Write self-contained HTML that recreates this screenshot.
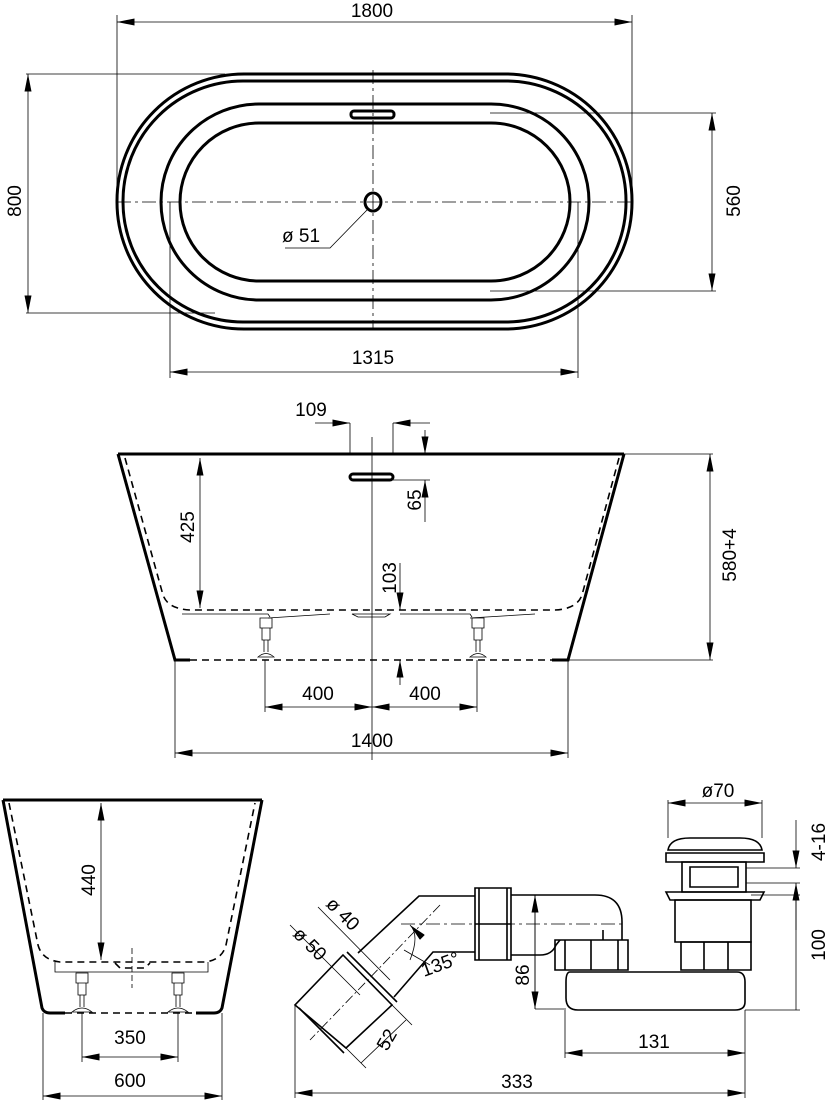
<!DOCTYPE html>
<html><head><meta charset="utf-8"><style>
html,body{margin:0;padding:0;background:#fff}
svg{display:block}
text{font-family:"Liberation Sans",sans-serif;font-size:19px;fill:#000;stroke:none}
</style></head><body>
<svg width="825" height="1100" viewBox="0 0 825 1100" xmlns="http://www.w3.org/2000/svg">
<defs>
<marker id="a" viewBox="0 0 20 8" refX="20" refY="4" markerWidth="18" markerHeight="7" markerUnits="userSpaceOnUse" orient="auto-start-reverse"><path d="M0,0 L20,4 L0,8 Z" fill="#000"/></marker>
</defs>
<g fill="none" stroke="#000">
<!-- ========== TOP VIEW ========== -->
<g stroke-width="3">
<rect x="117" y="74" width="515" height="255" rx="127" ry="127"/>
<rect x="123" y="81" width="503" height="241" rx="120" ry="120"/>
<rect x="161" y="104" width="428" height="196" rx="98" ry="98"/>
<rect x="180" y="123" width="390" height="158" rx="79" ry="79"/>
<rect x="351" y="111" width="43" height="7" rx="3"/>
<ellipse cx="373" cy="202" rx="8" ry="9"/>
</g>
<g stroke-width="0.8">
<path d="M117,202 H632" stroke-dasharray="14,4,3,4"/>
<path d="M373,70 V330" stroke-dasharray="14,4,3,4"/>
<path d="M117,15 V202 M632,15 V202"/>
<path d="M117,22 H632" marker-start="url(#a)" marker-end="url(#a)"/>
<path d="M26,74 H225 M26,313 H215"/>
<path d="M28,74 V313" marker-start="url(#a)" marker-end="url(#a)"/>
<path d="M490,113 H716 M490,291 H716"/>
<path d="M712,113 V291" marker-start="url(#a)" marker-end="url(#a)"/>
<path d="M170,202 V378 M578,202 V378"/>
<path d="M170,372 H578" marker-start="url(#a)" marker-end="url(#a)"/>
<path d="M367,210 L330,248 H285"/>
</g>
<text x="372" y="17" text-anchor="middle">1800</text>
<text transform="translate(21,201) rotate(-90)" text-anchor="middle">800</text>
<text transform="translate(740,201) rotate(-90)" text-anchor="middle">560</text>
<text x="373" y="364" text-anchor="middle">1315</text>
<text x="282" y="242">ø 51</text>

<!-- ========== SIDE VIEW ========== -->
<g stroke-width="3">
<path d="M118,454 H624"/>
<path d="M118,454 L175,660 H190 M624,454 L568,660 H552"/>
<rect x="350" y="474" width="43" height="6" rx="3"/>
</g>
<g stroke-width="1.6" stroke-dasharray="7,5">
<path d="M125,458 L163,595 Q168,609 190,610 H555 Q577,609 582,595 L619,458"/>
<path d="M190,660 H552"/>
</g>
<g stroke-width="0.8">
<path d="M182,614 H268 L270,617 M330,614 L268,618 M400,614 H470 L472,617 M535,614 L470,618"/>
<path d="M352,614 H390 L385,617 H358 Z"/>
<path d="M260,618 H272 V628 H260 Z M262,628 V640 H270 V628 M264,640 V652 M268,640 V652 M258,657 Q266,650 274,657 Z"/>
<path d="M472,618 H484 V628 H472 Z M474,628 V640 H482 V628 M476,640 V652 M480,640 V652 M470,657 Q478,650 486,657 Z"/>
<path d="M350,423 V454 M393,423 V454"/>
<path d="M372,437 V760"/>
<path d="M315,423 H350" marker-end="url(#a)"/>
<path d="M430,423 H393" marker-end="url(#a)"/>
<path d="M393,480 H430"/>
<path d="M425,430 V454" marker-end="url(#a)"/>
<path d="M425,522 V480" marker-end="url(#a)"/>
<path d="M200,458 V608" marker-start="url(#a)" marker-end="url(#a)"/>
<path d="M400,563 V610" marker-end="url(#a)"/>
<path d="M400,685 V660" marker-end="url(#a)"/>
<path d="M624,454 H713 M568,660 H713"/>
<path d="M710,454 V660" marker-start="url(#a)" marker-end="url(#a)"/>
<path d="M265,660 V712 M477,660 V712"/>
<path d="M265,707 H372" marker-start="url(#a)" marker-end="url(#a)"/>
<path d="M372,707 H477" marker-start="url(#a)" marker-end="url(#a)"/>
<path d="M175,660 V758 M568,660 V758"/>
<path d="M175,753 H568" marker-start="url(#a)" marker-end="url(#a)"/>
</g>
<text x="311" y="416" text-anchor="middle">109</text>
<text transform="translate(421,500) rotate(-90)" text-anchor="middle">65</text>
<text transform="translate(194,527) rotate(-90)" text-anchor="middle">425</text>
<text transform="translate(396,578) rotate(-90)" text-anchor="middle">103</text>
<text transform="translate(736,555) rotate(-90)" text-anchor="middle">580+4</text>
<text x="318" y="700" text-anchor="middle">400</text>
<text x="425" y="700" text-anchor="middle">400</text>
<text x="372" y="747" text-anchor="middle">1400</text>

<!-- ========== END VIEW ========== -->
<g stroke-width="3">
<path d="M3,800 H262"/>
<path d="M3,800 L42,1008 Q44,1013 50,1013 H65 M262,800 L222,1008 Q220,1013 214,1013 H196"/>
</g>
<g stroke-width="1.6" stroke-dasharray="7,5">
<path d="M9,803 L38,945 Q42,960 60,962 H205 Q222,960 226,945 L255,803"/>
<path d="M65,1013 H196"/>
<path d="M115,963 L120,968 H145 L150,963"/>
</g>
<g stroke-width="0.8">
<path d="M55,962 V972 H208 V962"/>
<path d="M132,948 V988" stroke-dasharray="6,3"/>
<path d="M76,973 H88 V983 H76 Z M78,983 V995 H86 V983 M80,995 V1007 M84,995 V1007 M72,1012 Q82,1004 92,1012 Z"/>
<path d="M172,973 H184 V983 H172 Z M174,983 V995 H182 V983 M176,995 V1007 M180,995 V1007 M168,1012 Q178,1004 188,1012 Z"/>
<path d="M101,803 V960" marker-start="url(#a)" marker-end="url(#a)"/>
<path d="M82,1013 V1062 M178,1013 V1062"/>
<path d="M82,1057 H178" marker-start="url(#a)" marker-end="url(#a)"/>
<path d="M43,1013 V1100 M222,1013 V1100"/>
<path d="M43,1096 H222" marker-start="url(#a)" marker-end="url(#a)"/>
</g>
<text transform="translate(95,880) rotate(-90)" text-anchor="middle">440</text>
<text x="130" y="1044" text-anchor="middle">350</text>
<text x="130" y="1087" text-anchor="middle">600</text>

<!-- ========== SIPHON ========== -->
<g stroke-width="1.6">
<path d="M668,850 Q670,838 690,838 H740 Q760,838 762,850 Z"/>
<path d="M666,853 H764 V862 H666 Z"/>
<path d="M682,862 H746 V892 H682 Z"/>
<path d="M690,867 H738 V887 H690 Z"/>
<path d="M666,892 H764 L760,900 H670 Z"/>
<path d="M675,900 H751 V942 H675 Z"/>
<path d="M681,942 H751 V970 H681 Z M704,942 V970 M728,942 V970"/>
<path d="M570,972 H737 Q745,972 745,982 V1002 Q745,1010 735,1010 H578 Q566,1010 566,998 V982 Q566,972 570,972 Z"/>
<path d="M555,940 H628 V970 H555 Z M565,940 V970 M591,940 V970 M618,940 V970"/>
<path d="M511,895 H595 Q622,895 622,922 V940"/>
<path d="M511,955 H540 Q552,955 556,945 L560,940"/>
<path d="M603,930 V940"/>
<path d="M475,888 H511 V960 H475 Z M479,888 V960 M507,888 V960 M475,924 H511"/>
<path d="M475,896 H419 L358,953"/>
<path d="M475,952 H433 L394,997"/>
<path d="M343,955 L392,1005 L346,1048 L295,1005 Z"/>
<path d="M347,952 L397,1002 M299,1008 L344,1053"/>
</g>
<g stroke-width="0.8">
<path d="M401,924 H624" stroke-dasharray="14,4,3,4"/>
<path d="M440,905 L310,1040" stroke-dasharray="10,3,2,3"/>
<path d="M668,803 H762" marker-start="url(#a)" marker-end="url(#a)"/>
<path d="M668,800 V838 M762,800 V838"/>
<path d="M746,868 H800 M746,883 H800"/>
<path d="M796,820 V868" marker-end="url(#a)"/>
<path d="M796,930 V883" marker-end="url(#a)"/>
<path d="M751,895 H800 M745,1010 H800"/>
<path d="M796,895 V1010"/>
<path d="M535,895 V1009 M535,1009 H566"/>
<path d="M535,895 V1009" marker-start="url(#a)" marker-end="url(#a)"/>
<path d="M565,1010 V1058 M745,1010 V1098"/>
<path d="M565,1053 H745" marker-start="url(#a)" marker-end="url(#a)"/>
<path d="M295,1005 V1098"/>
<path d="M295,1093 H745" marker-start="url(#a)" marker-end="url(#a)"/>
<path d="M318,907 L390,980 M290,925 L360,995"/>
<path d="M392,1005 L412,1025 M346,1048 L366,1068 M406,1020 L361,1063"/>
<path d="M410,960 Q420,935 410,925" marker-end="url(#a)"/>
<path d="M430,965 L404,950"/>
</g>
<text x="718" y="797" text-anchor="middle">ø70</text>
<text transform="translate(825,842) rotate(-90)" text-anchor="middle">4-16</text>
<text transform="translate(825,945) rotate(-90)" text-anchor="middle">100</text>
<text transform="translate(529,975) rotate(-90)" text-anchor="middle">86</text>
<text x="654" y="1048" text-anchor="middle">131</text>
<text x="517" y="1088" text-anchor="middle">333</text>
<text transform="translate(325,905) rotate(45)">ø 40</text>
<text transform="translate(292,935) rotate(45)">ø 50</text>
<text transform="translate(387,1052) rotate(-60)">52</text>
<text transform="translate(424,977) rotate(-20)">135°</text>
</g>
</svg>
</body></html>
